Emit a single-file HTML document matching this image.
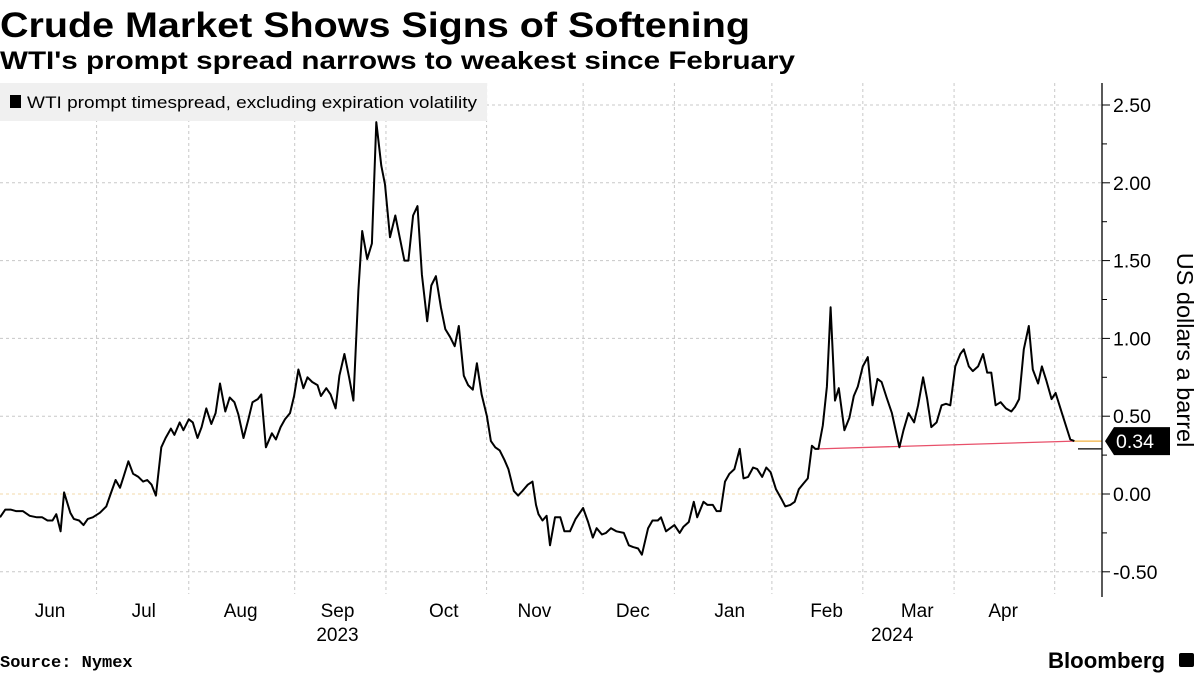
<!DOCTYPE html>
<html><head><meta charset="utf-8"><style>
body{margin:0;background:#fff;width:1200px;height:675px;overflow:hidden;font-family:"Liberation Sans",sans-serif}
</style></head><body>
<svg id="c" width="1200" height="675" xmlns="http://www.w3.org/2000/svg">
<text x="0" y="37" font-family="Liberation Sans" font-weight="bold" font-size="35" fill="#000" textLength="750" lengthAdjust="spacingAndGlyphs">Crude Market Shows Signs of Softening</text>
<text x="0" y="69" font-family="Liberation Sans" font-weight="bold" font-size="25" fill="#000" textLength="795" lengthAdjust="spacingAndGlyphs">WTI's prompt spread narrows to weakest since February</text>
<g id="grid"></g>
<rect x="0" y="83" width="487" height="38" fill="#f0f0f0"/>
<rect x="10" y="95" width="11" height="13" fill="#000"/>
<text x="27" y="108" font-size="17" fill="#000" textLength="450" lengthAdjust="spacingAndGlyphs">WTI prompt timespread, excluding expiration volatility</text>
<g id="marks"></g>
<g id="axes"></g>
<text transform="translate(1177,350) rotate(90)" text-anchor="middle" font-size="23.5" fill="#000">US dollars a barrel</text>
<text x="0" y="667" font-family="Liberation Mono" font-weight="bold" font-size="17" fill="#000">Source: Nymex</text>
<text x="1048" y="668" font-weight="bold" font-size="22" fill="#000" textLength="117" lengthAdjust="spacingAndGlyphs">Bloomberg</text>
<rect x="1179" y="653" width="15" height="14" rx="2" fill="#000"/>
</svg>
<script>
const days=[-1.5,0.2,1.9,3.6,5.8,8.0,10.3,12.0,13.7,15.3,16.5,17.9,19.0,21.0,22.1,23.8,25.2,26.6,28.2,30.5,32.5,33.9,35.5,36.9,38.0,39.6,41.1,42.8,44.3,45.6,47.0,48.4,50.1,51.5,53.2,54.3,56.0,57.2,58.9,60.2,61.7,63.0,64.5,66.1,67.5,68.9,70.6,72.0,73.5,74.8,76.4,78.0,79.3,81.0,82.1,83.6,85.5,86.8,88.3,89.7,91.3,92.6,94.0,95.6,96.9,98.4,100.1,101.2,102.9,104.3,105.9,107.1,108.7,110.2,111.6,113.2,114.4,116.0,117.5,118.9,120.5,121.7,123.3,125.0,126.4,127.9,129.2,130.7,132.1,133.5,135.2,136.5,138.0,139.6,141.0,142.5,144.0,145.3,146.9,148.3,149.8,151.1,152.6,154.3,155.6,157.0,158.4,159.9,161.2,162.9,164.3,165.7,167.4,168.9,170.0,170.8,172.1,173.4,174.5,176.1,177.8,179.1,180.9,182.7,185.1,186.7,188.2,189.4,191.1,192.4,194.0,195.7,198.1,199.7,201.0,202.7,203.9,205.9,207.3,209.0,210.0,211.6,214.3,216.0,217.2,218.9,220.5,221.6,223.6,224.9,226.6,227.8,229.1,230.5,231.9,233.5,235.2,236.4,237.9,239.5,240.8,242.4,243.7,245.1,246.8,248.5,249.8,251.4,252.8,254.1,255.7,257.0,258.3,259.4,260.4,261.8,263.1,264.3,265.7,266.9,268.7,270.3,271.7,273.0,274.6,276.2,277.7,279.3,280.6,282.2,283.9,286.3,287.6,289.2,291.0,292.3,293.9,295.2,296.5,298.2,299.8,301.2,302.6,304.2,305.8,306.9,308.5,309.8,311.5,313.1,314.4,315.7,317.1,318.7,320.4,322.1,323.3,324.6,326.1,327.7,329.0,330.7,331.9,333.3,335.0,336.3,338.3,341.0,342.3];
const spread=[-0.15,-0.10,-0.10,-0.11,-0.11,-0.14,-0.15,-0.15,-0.17,-0.17,-0.13,-0.24,0.01,-0.12,-0.16,-0.17,-0.20,-0.16,-0.15,-0.12,-0.08,0.00,0.09,0.04,0.11,0.21,0.13,0.11,0.08,0.09,0.06,-0.01,0.30,0.36,0.42,0.38,0.46,0.41,0.48,0.46,0.36,0.43,0.55,0.45,0.52,0.71,0.53,0.62,0.59,0.51,0.36,0.48,0.59,0.61,0.64,0.30,0.39,0.35,0.43,0.48,0.52,0.63,0.80,0.68,0.75,0.72,0.70,0.63,0.68,0.64,0.55,0.76,0.90,0.75,0.60,1.31,1.69,1.51,1.61,2.39,2.11,1.99,1.65,1.79,1.65,1.50,1.50,1.79,1.85,1.41,1.11,1.34,1.40,1.20,1.06,1.01,0.95,1.08,0.76,0.70,0.67,0.84,0.64,0.50,0.34,0.30,0.28,0.22,0.16,0.02,-0.01,0.02,0.06,0.08,-0.07,-0.13,-0.17,-0.14,-0.33,-0.15,-0.15,-0.24,-0.24,-0.16,-0.09,-0.18,-0.28,-0.22,-0.26,-0.25,-0.22,-0.24,-0.25,-0.33,-0.34,-0.35,-0.39,-0.22,-0.17,-0.17,-0.15,-0.24,-0.20,-0.25,-0.21,-0.18,-0.05,-0.15,-0.05,-0.07,-0.07,-0.11,-0.11,0.08,0.13,0.16,0.29,0.10,0.11,0.17,0.16,0.11,0.17,0.14,0.03,-0.03,-0.08,-0.07,-0.05,0.03,0.07,0.10,0.31,0.29,0.29,0.44,0.69,1.20,0.60,0.68,0.41,0.49,0.63,0.69,0.82,0.88,0.57,0.74,0.72,0.62,0.52,0.30,0.41,0.52,0.46,0.57,0.75,0.61,0.43,0.46,0.57,0.58,0.57,0.82,0.90,0.93,0.82,0.79,0.82,0.90,0.78,0.78,0.57,0.59,0.55,0.53,0.56,0.61,0.93,1.08,0.80,0.71,0.82,0.73,0.61,0.65,0.52,0.35,0.34];
const yTicks=[2.5,2.0,1.5,1.0,0.5,0.0,-0.5];
const yTickLabels=["2.50","2.00","1.50","1.00","0.50","0.00","-0.50"];
const gridDays=[29.4,58.9,92.8,122,154.2,185.1,214.3,245.5,274.6,303.8,336];
const monthLabels=["Jun","Jul","Aug","Sep","Oct","Nov","Dec","Jan","Feb","Mar","Apr"];
const monthDays=[14.5,44.5,75.5,106.5,140.5,169.5,201,232,263,292,319.5];
const yearLabels=["2023","2024"];
const yearDays=[106.5,284];
const trendStart=[260.4,0.29];
const trendEnd=[342.3,0.34];
const lastValue=0.34;
const lastLabel="0.34";

const NS="http://www.w3.org/2000/svg";
const AX=1102;
const X=d=>4.7+d*3.125;
const Y=v=>494-v*155.6;
function mk(tag,attrs,parent,txt){const e=document.createElementNS(NS,tag);for(const k in attrs)e.setAttribute(k,attrs[k]);if(txt!==undefined)e.textContent=txt;parent.appendChild(e);return e;}
const grid=document.getElementById('grid'),marks=document.getElementById('marks'),axes=document.getElementById('axes');
yTicks.forEach((t,i)=>{
  const l=mk('line',{x1:0,x2:AX,y1:Y(t),y2:Y(t),stroke:t===0?'#f3d9a8':'#c8c8c8','stroke-dasharray':'3,3','stroke-width':1},grid);
  
  
  const tk=mk('line',{x1:AX,x2:AX+8,y1:Y(t),y2:Y(t),stroke:'#000'},axes);
  
  
  const tx=mk('text',{x:1113,y:Y(t)+7,'font-size':19.5,fill:'#000'},axes,yTickLabels[i]);
  
  
});
[0.25,0.75,1.25,1.75,2.25,-0.25].forEach(t=>{
  const tk=mk('line',{x1:AX,x2:AX+5,y1:Y(t),y2:Y(t),stroke:'#000'},axes);
  
  
});
gridDays.forEach(d=>{
  const l=mk('line',{x1:X(d),x2:X(d),y1:83,y2:594,stroke:'#c8c8c8','stroke-dasharray':'3,3'},grid);
  
  
});
const ax=mk('line',{x1:AX,x2:AX,y1:83,y2:597,stroke:'#000','stroke-width':1.3},axes);


monthLabels.forEach((m,i)=>{
  const t=mk('text',{x:X(monthDays[i]),y:617,'text-anchor':'middle','font-size':19,fill:'#000'},axes,m);
  
  
});
yearLabels.forEach((m,i)=>{
  const t=mk('text',{x:X(yearDays[i]),y:641,'text-anchor':'middle','font-size':19,fill:'#000'},axes,m);
  
  
});
const tr=mk('line',{x1:X(trendStart[0]),y1:Y(trendStart[1]),x2:X(trendEnd[0]),y2:Y(trendEnd[1]),stroke:'#e8506a','stroke-width':1.3},marks);


const pts=days.map((d,i)=>X(d).toFixed(1)+','+Y(spread[i]).toFixed(1)).join(' ');
const pl=mk('polyline',{points:pts,fill:'none',stroke:'#000','stroke-width':2,'stroke-linejoin':'round'},marks);


const lx=X(days[days.length-1]);
const ol=mk('line',{x1:lx,x2:AX,y1:Y(lastValue),y2:Y(lastValue),stroke:'#f0b040','stroke-width':1.3},marks);


const bl=mk('line',{x1:1078,x2:AX,y1:Y(0.29),y2:Y(0.29),stroke:'#000','stroke-width':1.2},marks);


const yv=Y(lastValue);
const tag=mk('path',{d:`M1105,${yv} L1114,${yv-14} L1170,${yv-14} L1170,${yv+14} L1114,${yv+14} Z`,fill:'#000'},axes);


const tt=mk('text',{x:1116,y:yv+7,'font-size':19.5,fill:'#fff'},axes,lastLabel);


</script>
</body></html>
